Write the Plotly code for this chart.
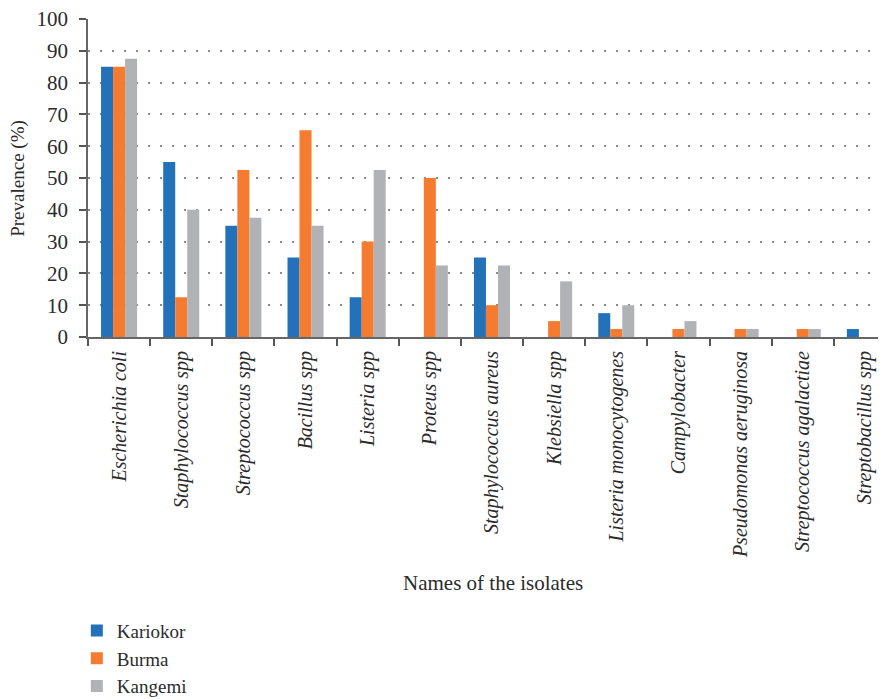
import plotly.graph_objects as go

categories = ["Escherichia coli", "Staphylococcus spp", "Streptococcus spp", "Bacillus spp",
              "Listeria spp", "Proteus spp", "Staphylococcus aureus", "Klebsiella spp",
              "Listeria monocytogenes", "Campylobacter", "Pseudomonas aeruginosa",
              "Streptococcus agalactiae", "Streptobacillus spp"]
kariokor = [85, 55, 35, 25, 12.5, 0, 25, 0, 7.5, 0, 0, 0, 2.5]
burma = [85, 12.5, 52.5, 65, 30, 50, 10, 5, 2.5, 2.5, 2.5, 2.5, 0]
kangemi = [87.5, 40, 37.5, 35, 52.5, 22.5, 22.5, 17.5, 10, 5, 2.5, 2.5, 0]
series_names = ["Kariokor", "Burma", "Kangemi"]
colors = ["#2271B9", "#F47B2F", "#B1B2B5"]

FONT = "'Liberation Serif', 'Times New Roman', serif"
TXT = "#2b2b2b"
fig = go.Figure()
for name, vals, c in zip(series_names, [kariokor, burma, kangemi], colors):
    fig.add_trace(go.Bar(x=categories, y=vals, name=name, marker_color=c, marker_line_width=0))

fig.update_layout(
    width=878, height=691,
    margin=dict(l=80, r=0, t=11, b=362, autoexpand=False),
    paper_bgcolor="white", plot_bgcolor="white",
    barmode="group", bargap=0.42, bargroupgap=0,
    font=dict(family=FONT, size=18, color=TXT),
    showlegend=True,
    legend=dict(orientation="v", x=-0.014, xanchor="left", y=-0.864, yanchor="top",
                font=dict(family=FONT, size=19, color=TXT),
                tracegroupgap=0, itemwidth=30, bgcolor="rgba(0,0,0,0)"),
)
fig.update_xaxes(
    type="category", range=[-0.5, 12.34], tickson="boundaries", automargin=False,
    ticks="outside", ticklen=7, tickcolor="#555555", tickwidth=1.5,
    showline=True, linecolor="#666666", linewidth=2,
    tickangle=-90, tickfont=dict(family=FONT, size=20, color=TXT, style="italic"),
    ticklabelstandoff=4,
    showgrid=False,
)
fig.update_yaxes(
    range=[0, 100], dtick=10, ticks="outside", ticklen=7, tickcolor="#555555", tickwidth=1.5,
    showline=True, linecolor="#666666", linewidth=1.5, automargin=False,
    tickfont=dict(family=FONT, size=21, color=TXT), ticklabelstandoff=7,
    ticklabeloverflow="allow",
    showgrid=True, gridcolor="#8a8a8a", griddash="2px,10px", gridwidth=1.5,
    zeroline=False,
)
fig.add_annotation(text="Names of the isolates", xref="paper", yref="paper",
                   x=0.507, y=-0.775, showarrow=False, yanchor="middle",
                   font=dict(family=FONT, size=21, color=TXT))
fig.add_annotation(text="Prevalence (%)", xref="paper", yref="paper",
                   x=-0.088, xanchor="center", y=0.5, showarrow=False, textangle=-90,
                   font=dict(family=FONT, size=19, color=TXT))
fig.write_html("out.html")
